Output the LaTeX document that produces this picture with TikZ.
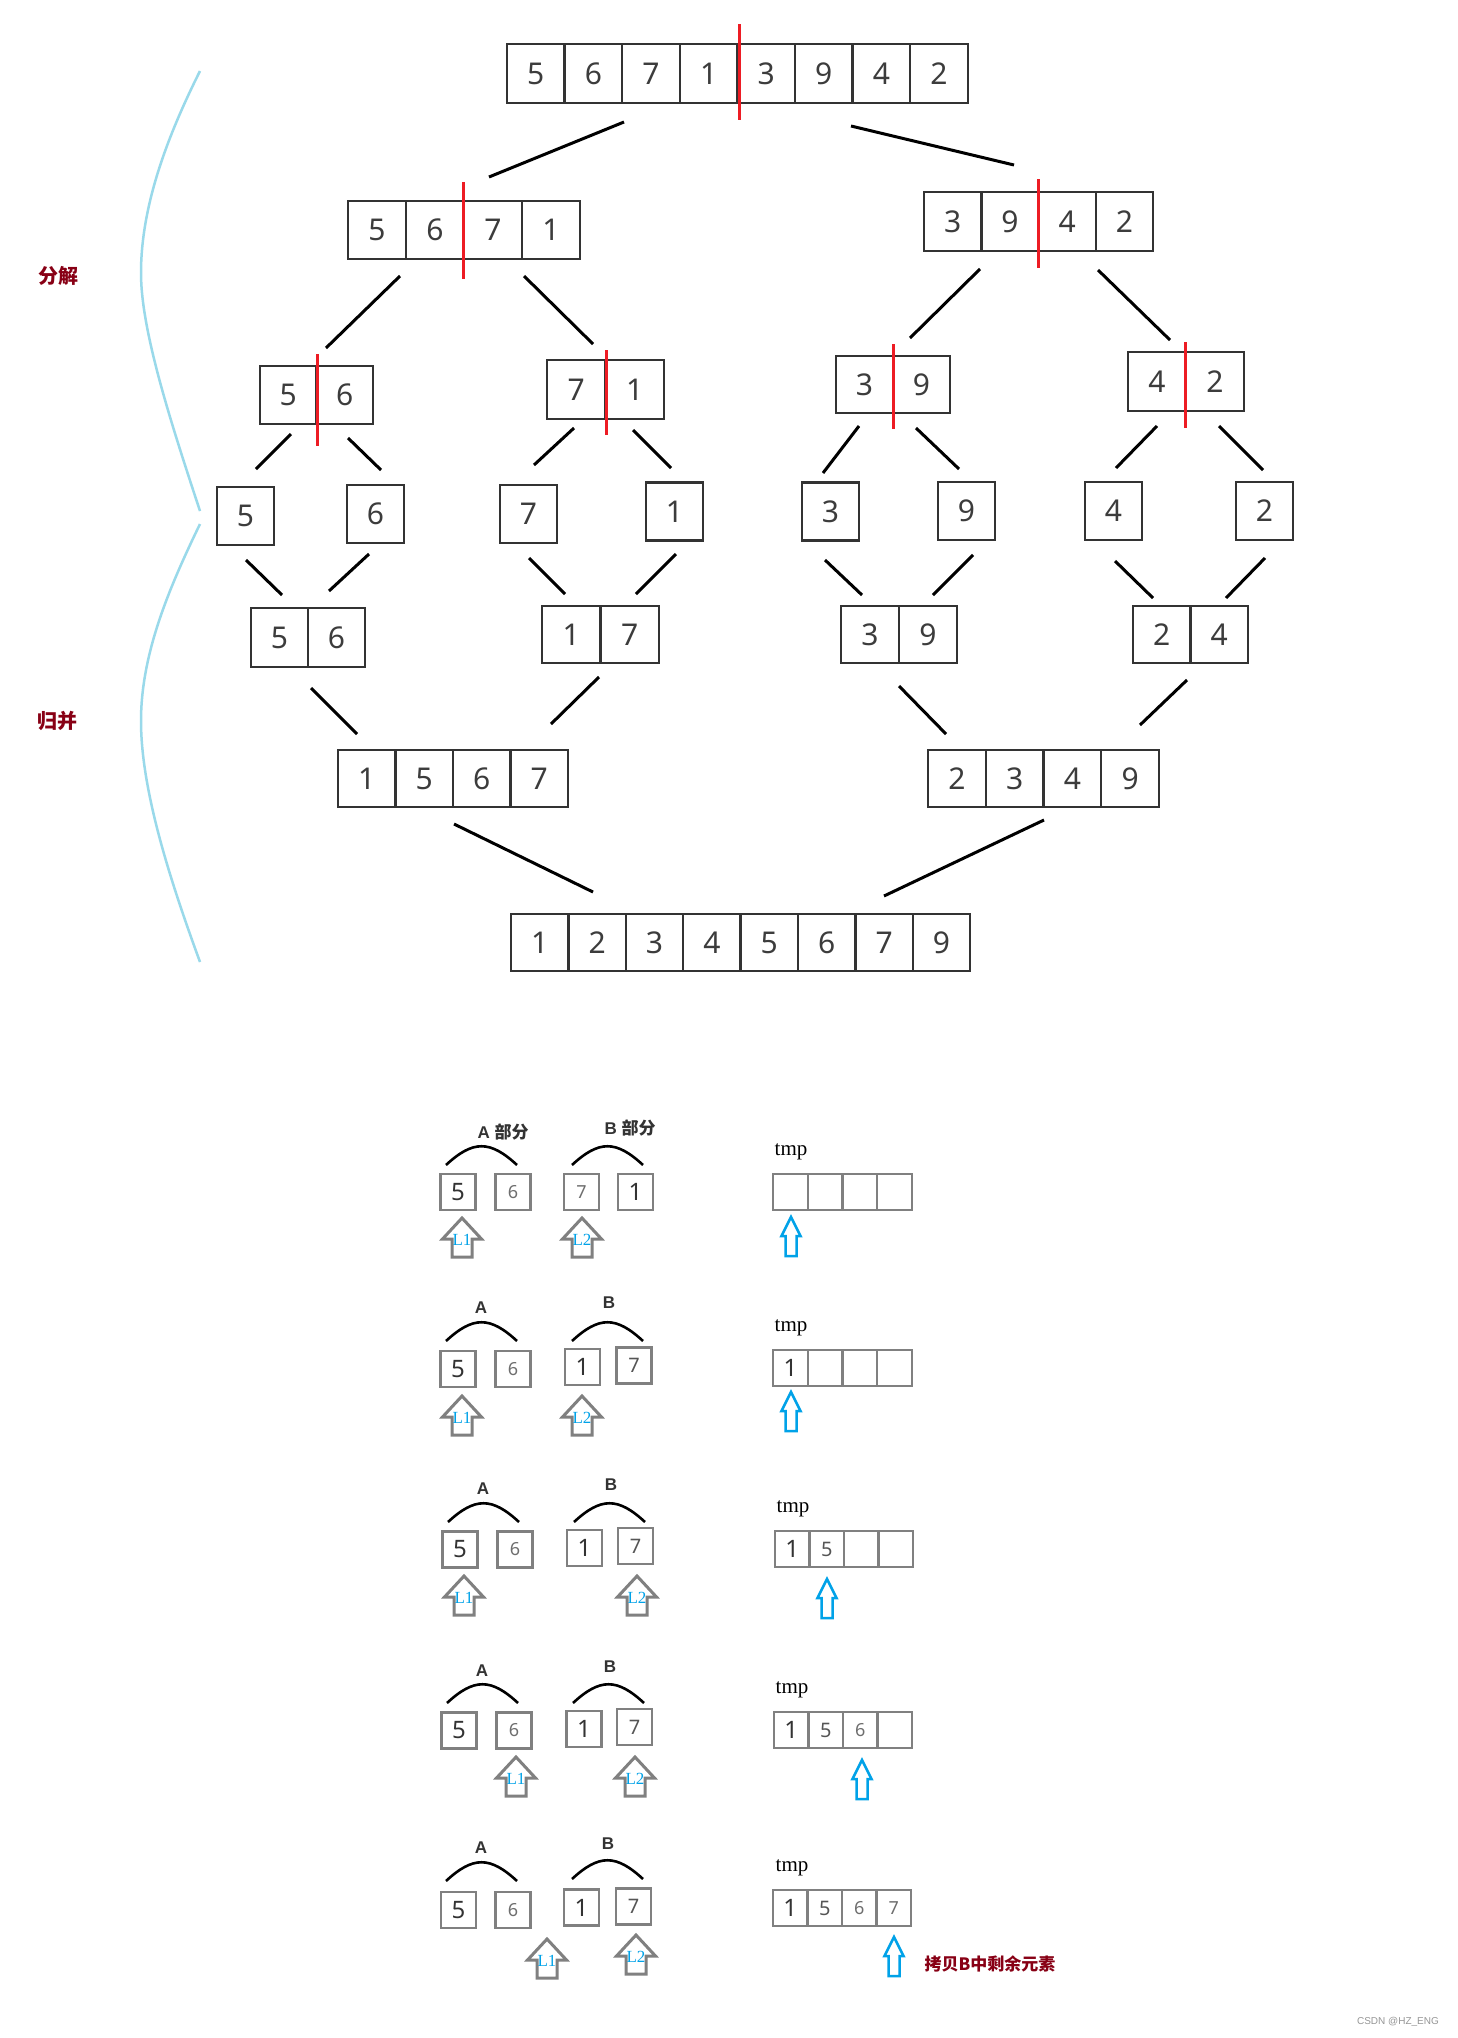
\documentclass[tikz,border=0pt]{standalone}
\usepackage{fontspec}
\setmainfont{Noto Sans}
\newfontfamily\cjk{Noto Sans CJK SC}
\newfontfamily\serifnum{Liberation Serif}
\newfontfamily\arialfont{Liberation Sans}
\definecolor{paintred}{RGB}{237,28,36}
\definecolor{paintblue}{RGB}{0,162,232}
\definecolor{turq}{RGB}{153,217,234}
\definecolor{darkred}{RGB}{136,0,21}
\definecolor{boxdark}{RGB}{51,51,51}
\definecolor{digit}{RGB}{60,60,60}
\definecolor{boxgray}{RGB}{128,128,128}
\newcommand\fs[1]{\fontsize{#1}{#1}\selectfont}
% name, left x, center y, cell width, cell height, list
\newcommand\arr[6]{%
  \foreach \v [count=\i] in {#6}{%
    \node[cell, minimum width=#4pt, minimum height=#5pt] (#1-\i) at ({#2+(\i-0.5)*#4}, #3) {\v};
  }}
% gray hollow arrow: name, x, top
\newcommand\garrow[3]{%
  \draw[garr] (#2,#3) coordinate (#1) -- ++(19.5,21) -- ++(-9.5,0) -- ++(0,18) -- ++(-20,0) -- ++(0,-18) -- ++(-9.5,0) -- cycle;}
% blue hollow arrow: name, x, top
\newcommand\barrow[3]{%
  \draw[barr] (#2,#3) coordinate (#1) -- ++(9.5,19) -- ++(-4,0) -- ++(0,20) -- ++(-11,0) -- ++(0,-20) -- ++(-4,0) -- cycle;}
% arc over a group: name, left x, base y
\newcommand\grouparc[3]{%
  \draw[arcline] (#2,#3) coordinate (#1-l) .. controls ({#2+27},{#3-25}) and ({#2+44},{#3-25}) .. ({#2+71},#3) coordinate (#1-r);}
\tikzset{
  cell/.style={draw=boxdark, line width=2.4pt, inner sep=0pt, text=digit, font=\fs{30}},
  small/.style={draw=boxgray, line width=2.4pt, inner sep=0pt, minimum width=35pt, minimum height=36pt},
  conn/.style={line width=3pt, black},
  redline/.style={line width=3pt, paintred},
  brace/.style={line width=2.5pt, turq},
  garr/.style={line width=3pt, boxgray, line join=miter},
  barr/.style={line width=2.5pt, paintblue, line join=miter},
  arcline/.style={line width=2.6pt, black},
  ltag/.style={text=paintblue, font=\serifnum\fs{17}, inner sep=0pt},
  grplabel/.style={text=boxdark, font=\arialfont\bfseries\fs{17}, inner sep=0pt},
  tmplabel/.style={text=black, font=\serifnum\fs{21}, inner sep=0pt},
  side/.style={text=darkred, font=\cjk\bfseries\fs{20}, inner sep=0pt},
  d1/.style={text=boxdark, font=\fs{24}},
  d2/.style={text={rgb,255:red,110;green,110;blue,110}, font=\fs{18}},
  d3/.style={text={rgb,255:red,85;green,85;blue,85}, font=\fs{20}},
}
\begin{document}
\begin{tikzpicture}[x=1pt,y=-1pt]
\useasboundingbox (0,0) rectangle (1457,2038);
\fill[white] (0,0) rectangle (1457,2038);

% ---------- tree ----------
\arr{t}{507}{73.5}{57.6}{59}{5,6,7,1,3,9,4,2}
\arr{a}{348}{230}{58}{58}{5,6,7,1}
\arr{b}{924}{221.5}{57.3}{59}{3,9,4,2}
\arr{c}{260}{395}{56.5}{58}{5,6}
\arr{d}{547}{389.5}{58.5}{59}{7,1}
\arr{e}{836}{384.5}{57}{57}{3,9}
\arr{f}{1128}{381.5}{58}{59}{4,2}
\arr{g1}{217}{516}{57}{58}{5}
\arr{g2}{347}{514}{57}{58}{6}
\arr{g3}{500}{514}{57}{58}{7}
\arr{g4}{646}{511.5}{57}{58}{1}
\arr{g5}{802}{511.5}{57}{58}{3}
\arr{g6}{938}{511}{57}{58}{9}
\arr{g7}{1085}{511}{57}{58}{4}
\arr{g8}{1236}{511}{57}{58}{2}
\arr{h}{251}{637.5}{57}{59}{5,6}
\arr{i}{542}{634.5}{58.5}{57}{1,7}
\arr{j}{841}{634.5}{58}{57}{3,9}
\arr{k}{1133}{634.5}{57.5}{57}{2,4}
\arr{m}{338}{778.5}{57.5}{57}{1,5,6,7}
\arr{n}{928}{778.5}{57.75}{57}{2,3,4,9}
\arr{o}{511}{942.5}{57.4}{57}{1,2,3,4,5,6,7,9}

% red split lines
\draw[redline] (739,24) coordinate (r1a) -- (739,120) coordinate (r1b);
\draw[redline] (463,182) coordinate (r2a) -- (463,279) coordinate (r2b);
\draw[redline] (1038,179) coordinate (r3a) -- (1038,268) coordinate (r3b);
\draw[redline] (317,354) coordinate (r4a) -- (317,446) coordinate (r4b);
\draw[redline] (606,350) coordinate (r5a) -- (606,435) coordinate (r5b);
\draw[redline] (893,344) coordinate (r6a) -- (893,429) coordinate (r6b);
\draw[redline] (1185,342) coordinate (r7a) -- (1185,428) coordinate (r7b);

% connectors
\foreach \xa/\ya/\xb/\yb [count=\n] in {
  624/122/489/177, 851/126/1014/165,
  400/276/326/348, 524/276/593/344, 980/269/910/338, 1098/270/1170/340,
  291/434/256/469, 348/438/381/470, 574/428/534/465, 633/430/671/468,
  859/426/823/473, 916/428/959/469, 1157/426/1116/468, 1219/426/1263/470,
  246/560/282/595, 369/554/329/591, 529/558/565/594, 676/554/636/594,
  825/560/862/595, 973/555/933/595, 1115/561/1153/598, 1265/558/1226/598,
  311/688/357/734, 599/677/551/724, 899/686/946/734, 1187/680/1140/725,
  454/824/593/892, 1044/820/884/896}
  \draw[conn] (\xa,\ya) coordinate (k\n a) -- (\xb,\yb) coordinate (k\n b);

% side braces and labels
\draw[brace] (200,71) coordinate (br1a) .. controls (168,135) and (141,205) .. (141,273) coordinate (br1m)
  .. controls (141,330) and (170,420) .. (200,511) coordinate (br1b);
\draw[brace] (200,524) coordinate (br2a) .. controls (168,590) and (141,655) .. (141,721) coordinate (br2m)
  .. controls (141,790) and (170,880) .. (200,962) coordinate (br2b);
\node[side] (fenjie) at (58,276) {分解};
\node[side] (guibing) at (57,721) {归并};

% ---------- merge steps ----------
% row 1
\node[grplabel] (A1) at (503,1132) {A \cjk 部分};
\node[grplabel] (B1) at (630,1128) {B \cjk 部分};
\grouparc{arcA1}{446}{1165}
\grouparc{arcB1}{572}{1165}
\node[small, d1] (r1-5) at (458,1192) {5};
\node[small, d2] (r1-6) at (513,1192) {6};
\node[small, d2] (r1-7) at (581.5,1192) {7};
\node[small, d1] (r1-1) at (635.5,1192) {1};
\node[tmplabel] (tmp1) at (791,1152) {tmp};
\foreach \i in {1,...,4}{\node[small, minimum width=34.75pt] (tA-\i) at ({773+(\i-0.5)*34.75},1192) {};}
\garrow{L1a}{462}{1218} \node[ltag] (tL1a) at (462,1240) {L1};
\garrow{L2a}{582}{1218} \node[ltag] (tL2a) at (582,1240) {L2};
\barrow{P1}{791}{1217}

% row 2
\node[grplabel] (A2) at (481,1308) {A};
\node[grplabel] (B2) at (609,1303) {B};
\grouparc{arcA2}{446}{1341}
\grouparc{arcB2}{572}{1341}
\node[small, d1] (r2-5) at (458,1369) {5};
\node[small, d2] (r2-6) at (513,1369) {6};
\node[small, d1] (r2-1) at (582.5,1367) {1};
\node[small, d3] (r2-7) at (634,1365.5) {7};
\node[tmplabel] (tmp2) at (791,1328) {tmp};
\foreach \v [count=\i] in {1,{},{},{}}{\node[small, d1, minimum width=34.75pt] (tB-\i) at ({773+(\i-0.5)*34.75},1368) {\v};}
\garrow{L1b}{462}{1396} \node[ltag] (tL1b) at (462,1418) {L1};
\garrow{L2b}{582}{1396} \node[ltag] (tL2b) at (582,1418) {L2};
\barrow{P2}{791}{1392}

% row 3
\node[grplabel] (A3) at (483,1489) {A};
\node[grplabel] (B3) at (611,1485) {B};
\grouparc{arcA3}{448}{1522}
\grouparc{arcB3}{574}{1522}
\node[small, d1] (r3-5) at (460,1549.5) {5};
\node[small, d2] (r3-6) at (515,1549.5) {6};
\node[small, d1] (r3-1) at (584.5,1548) {1};
\node[small, d3] (r3-7) at (635.5,1546) {7};
\node[tmplabel] (tmp3) at (793,1509) {tmp};
\node[small, d1, minimum width=34.5pt] (tC-1) at (792.25,1549) {1};
\node[small, d3, minimum width=34.5pt] (tC-2) at (826.75,1549) {5};
\node[small, minimum width=34.5pt] (tC-3) at (861.25,1549) {};
\node[small, minimum width=34.5pt] (tC-4) at (895.75,1549) {};
\garrow{L1c}{464}{1576} \node[ltag] (tL1c) at (464,1598) {L1};
\garrow{L2c}{637}{1576} \node[ltag] (tL2c) at (637,1598) {L2};
\barrow{P3}{827}{1579}

% row 4
\node[grplabel] (A4) at (482,1671) {A};
\node[grplabel] (B4) at (610,1667) {B};
\grouparc{arcA4}{447}{1703}
\grouparc{arcB4}{573}{1703}
\node[small, d1] (r4-5) at (459,1730.5) {5};
\node[small, d2] (r4-6) at (514,1730.5) {6};
\node[small, d1] (r4-1) at (584,1729) {1};
\node[small, d3] (r4-7) at (634.5,1727) {7};
\node[tmplabel] (tmp4) at (792,1690) {tmp};
\node[small, d1, minimum width=34.5pt] (tD-1) at (791.25,1730) {1};
\node[small, d3, minimum width=34.5pt] (tD-2) at (825.75,1730) {5};
\node[small, d2, minimum width=34.5pt] (tD-3) at (860.25,1730) {6};
\node[small, minimum width=34.5pt] (tD-4) at (894.75,1730) {};
\garrow{L1d}{516}{1757} \node[ltag] (tL1d) at (516,1779) {L1};
\garrow{L2d}{635}{1757} \node[ltag] (tL2d) at (635,1779) {L2};
\barrow{P4}{862}{1760}

% row 5
\node[grplabel] (A5) at (481,1848) {A};
\node[grplabel] (B5) at (608,1844) {B};
\grouparc{arcA5}{446}{1881}
\grouparc{arcB5}{572}{1879}
\node[small, d1] (r5-5) at (458.5,1910) {5};
\node[small, d2] (r5-6) at (513,1910) {6};
\node[small, d1] (r5-1) at (581.5,1907.5) {1};
\node[small, d3] (r5-7) at (633.5,1906.5) {7};
\node[tmplabel] (tmp5) at (792,1868) {tmp};
\node[small, d1, minimum width=34.5pt] (tE-1) at (790.25,1908) {1};
\node[small, d3, minimum width=34.5pt] (tE-2) at (824.75,1908) {5};
\node[small, d2, minimum width=34.5pt] (tE-3) at (859.25,1908) {6};
\node[small, d2, minimum width=34.5pt] (tE-4) at (893.75,1908) {7};
\garrow{L1e}{547}{1939} \node[ltag] (tL1e) at (547,1961) {L1};
\garrow{L2e}{636}{1935} \node[ltag] (tL2e) at (636,1957) {L2};
\barrow{P5}{894}{1937}
\node[text=darkred, font=\cjk\bfseries\fs{17}, inner sep=0pt] (copyB) at (990,1964) {拷贝B中剩余元素};

% watermark
\node[text={rgb,255:red,150;green,150;blue,150}, font=\arialfont\fs{10}, inner sep=0pt] (wm) at (1398,2022) {CSDN @HZ\_ENG};
\end{tikzpicture}
\end{document}
